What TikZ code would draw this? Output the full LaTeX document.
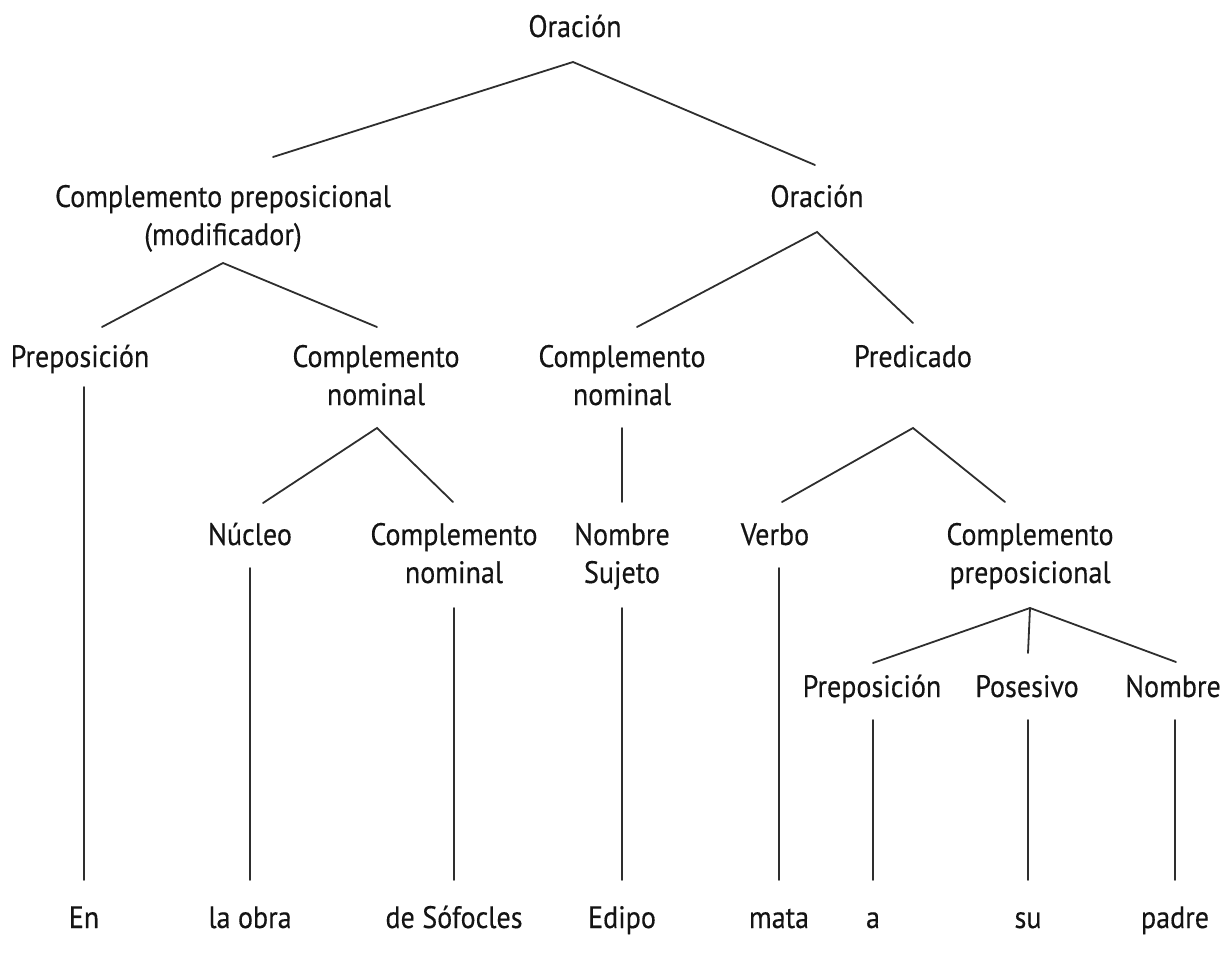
\documentclass[tikz,border=0pt]{standalone}
\usepackage{fontspec}
\setmainfont{PT Sans}[FakeStretch=0.905,FakeBold=0.35]
\newcommand{\lbl}[1]{\begin{tabular}[t]{@{}c@{}}#1\end{tabular}}
\begin{document}
\begin{tikzpicture}[x=1pt,y=-1pt,
  word/.style={inner sep=0pt,anchor=base,text=black!92,
    font=\fontsize{31}{38}\selectfont},
  branch/.style={line width=1.8pt,draw=black!82,line cap=round}]
\useasboundingbox (0,0) rectangle (1229,953);

% constituents
\node[word] (top)    at (575,37)  {\lbl{Oración}};
\node[word] (cpm)    at (223,207) {\lbl{Complemento preposicional\\(modificador)}};
\node[word] (or2)    at (817,207) {\lbl{Oración}};
\node[word] (prep1)  at (80,367)  {\lbl{Preposición}};
\node[word] (cn1)    at (376,367) {\lbl{Complemento\\nominal}};
\node[word] (cn2)    at (622,367) {\lbl{Complemento\\nominal}};
\node[word] (pred)   at (913,367) {\lbl{Predicado}};
\node[word] (nuc)    at (250,545) {\lbl{Núcleo}};
\node[word] (cn3)    at (454,545) {\lbl{Complemento\\nominal}};
\node[word] (nsuj)   at (622,545) {\lbl{Nombre\\Sujeto}};
\node[word] (verbo)  at (775,545) {\lbl{Verbo}};
\node[word] (cp2)    at (1030,545){\lbl{Complemento\\preposicional}};
\node[word] (prep2)  at (872,697) {\lbl{Preposición}};
\node[word] (pos)    at (1027,697){\lbl{Posesivo}};
\node[word] (nombre) at (1173,697){\lbl{Nombre}};

% words of the sentence
\node[word] (w1) at (84,928)   {\lbl{En}};
\node[word] (w2) at (250,928)  {\lbl{la obra}};
\node[word] (w3) at (454,928)  {\lbl{de Sófocles}};
\node[word] (w4) at (622,928)  {\lbl{Edipo}};
\node[word] (w5) at (779,928)  {\lbl{mata}};
\node[word] (w6) at (873,928)  {\lbl{a}};
\node[word] (w7) at (1028,928) {\lbl{su}};
\node[word] (w8) at (1175,928) {\lbl{padre}};

% branches
\draw[branch] ([shift={(50,-50)}]cpm.base) -- ([shift={(-2,25)}]top.base) -- ([shift={(-2,-42)}]or2.base);
\draw[branch] ([shift={(22,-40)}]prep1.base) -- ([shift={(0,56)}]cpm.base) -- ([shift={(1,-40)}]cn1.base);
\draw[branch] ([shift={(15,-40)}]cn2.base) -- ([shift={(0,25)}]or2.base) -- ([shift={(0,-44)}]pred.base);
\draw[branch] ([shift={(13,-42)}]nuc.base) -- ([shift={(1,61)}]cn1.base) -- ([shift={(-1,-43)}]cn3.base);
\draw[branch] ([shift={(0,61)}]cn2.base) -- ([shift={(0,-43)}]nsuj.base);
\draw[branch] ([shift={(7,-43)}]verbo.base) -- ([shift={(0,61)}]pred.base) -- ([shift={(-25,-43)}]cp2.base);
\draw[branch] ([shift={(1,-34)}]prep2.base) -- ([shift={(0,63)}]cp2.base) -- ([shift={(3,-35)}]nombre.base);
\draw[branch] ([shift={(0,63)}]cp2.base) -- ([shift={(1,-44)}]pos.base);

% leaves
\draw[branch] ([shift={(4,20)}]prep1.base) -- ([shift={(0,-48)}]w1.base);
\draw[branch] ([shift={(0,23)}]nuc.base) -- ([shift={(0,-48)}]w2.base);
\draw[branch] ([shift={(0,63)}]cn3.base) -- ([shift={(0,-48)}]w3.base);
\draw[branch] ([shift={(0,63)}]nsuj.base) -- ([shift={(0,-48)}]w4.base);
\draw[branch] ([shift={(4,23)}]verbo.base) -- ([shift={(0,-48)}]w5.base);
\draw[branch] ([shift={(1,23)}]prep2.base) -- ([shift={(0,-48)}]w6.base);
\draw[branch] ([shift={(1,23)}]pos.base) -- ([shift={(0,-48)}]w7.base);
\draw[branch] ([shift={(2,23)}]nombre.base) -- ([shift={(0,-48)}]w8.base);
\end{tikzpicture}
\end{document}
